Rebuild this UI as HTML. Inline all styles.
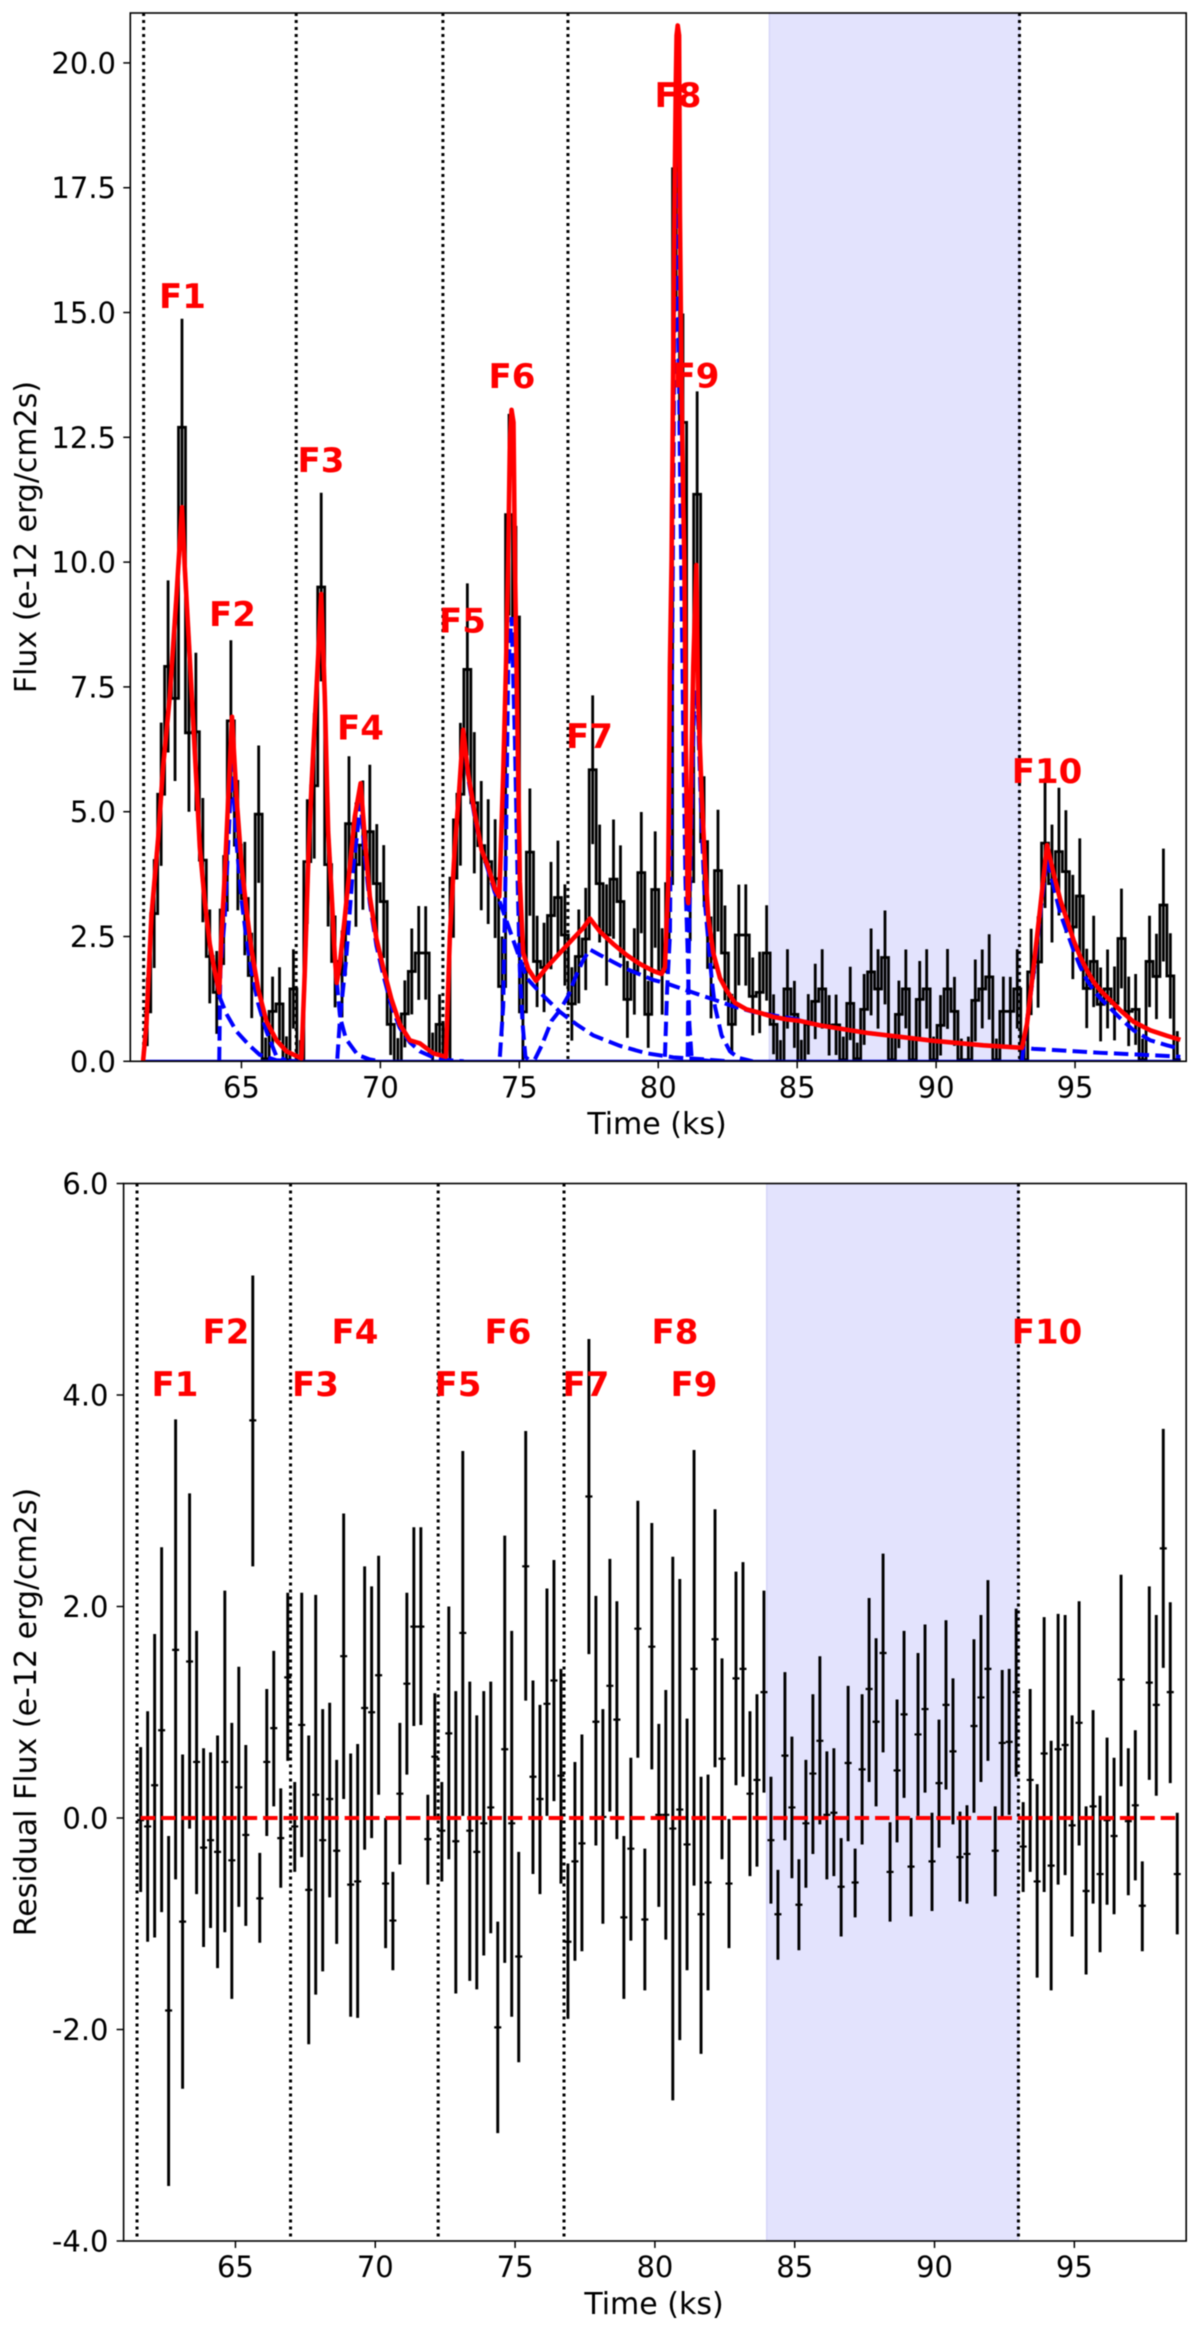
<!DOCTYPE html>
<html lang="en">
<head>
<meta charset="utf-8">
<title>Flare light curve and residuals</title>
<style>
html,body{margin:0;padding:0;background:#fff;}
svg{display:block;filter:blur(0.4px);}
text{font-family:"DejaVu Sans","Liberation Sans",sans-serif;fill:#000;}
.tick{font-size:29px;}
.title{font-size:30px;}
.flare{font-size:34px;font-weight:bold;fill:#ff0000;text-anchor:middle;}
</style>
</head>
<body>
<svg id="figure" xmlns="http://www.w3.org/2000/svg" width="1200" height="2334" viewBox="0 0 1200 2334">
  <defs>
    <clipPath id="clip-top"><rect x="130.3" y="13" width="1055.9" height="1048.3"/></clipPath>
    <clipPath id="clip-bottom"><rect x="123.6" y="1183.5" width="1062.6" height="1057.5"/></clipPath>
  </defs>
  <rect width="1200" height="2334" fill="#ffffff"/>
  <g id="top-data" clip-path="url(#clip-top)"></g>
  <g id="bottom-data" clip-path="url(#clip-bottom)"></g>
  <g id="axes-layer"></g>

  <text class="title" x="657" y="1134" text-anchor="middle">Time (ks)</text>
  <text class="title" transform="translate(36,537) rotate(-90)" text-anchor="middle">Flux (e-12 erg/cm2s)</text>
  <text class="title" x="654" y="2314" text-anchor="middle">Time (ks)</text>
  <text class="title" transform="translate(36,1712) rotate(-90)" text-anchor="middle">Residual Flux (e-12 erg/cm2s)</text>

  <g>
    <text class="flare" x="182.5" y="308">F1</text>
    <text class="flare" x="232.5" y="626">F2</text>
    <text class="flare" x="321" y="472">F3</text>
    <text class="flare" x="360.5" y="739.5">F4</text>
    <text class="flare" x="462.5" y="632.5">F5</text>
    <text class="flare" x="512" y="388">F6</text>
    <text class="flare" x="589.5" y="748">F7</text>
    <text class="flare" x="678" y="107">F8</text>
    <text class="flare" x="696" y="387.5">F9</text>
    <text class="flare" x="1047" y="783">F10</text>
  </g>
  <g>
    <text class="flare" x="175" y="1396">F1</text>
    <text class="flare" x="226" y="1343.5">F2</text>
    <text class="flare" x="315.5" y="1396">F3</text>
    <text class="flare" x="355" y="1343.5">F4</text>
    <text class="flare" x="458" y="1396">F5</text>
    <text class="flare" x="508" y="1343.5">F6</text>
    <text class="flare" x="586" y="1396">F7</text>
    <text class="flare" x="675" y="1343.5">F8</text>
    <text class="flare" x="694" y="1396">F9</text>
    <text class="flare" x="1047" y="1343.5">F10</text>
  </g>
</svg>
<script>
// ---- categories / tick labels ----
const xTickValues = [65,70,75,80,85,90,95];
const xTickLabels = ["65","70","75","80","85","90","95"];
const fluxTickValues = [0,2.5,5,7.5,10,12.5,15,17.5,20];
const fluxTickLabels = ["0.0","2.5","5.0","7.5","10.0","12.5","15.0","17.5","20.0"];
const residTickValues = [-4,-2,0,2,4,6];
const residTickLabels = ["-4.0","-2.0","0.0","2.0","4.0","6.0"];
const flareBoundaries = [61.48,66.97,72.25,76.75,93.0];
const quiescentBand = [84.0,93.0];

// ---- binned light curve ----
const binTimes = [
61.61,61.86,62.11,62.36,62.61,62.86,63.11,63.36,63.61,63.86,
64.11,64.36,64.62,64.87,65.12,65.37,65.62,65.87,66.12,66.37,
66.62,66.87,67.12,67.37,67.62,67.87,68.12,68.37,68.62,68.87,
69.12,69.37,69.62,69.87,70.12,70.37,70.63,70.88,71.13,71.38,
71.63,71.88,72.13,72.38,72.63,72.88,73.13,73.38,73.63,73.88,
74.13,74.38,74.63,74.88,75.13,75.38,75.64,75.89,76.14,76.39,
76.64,76.89,77.14,77.39,77.64,77.89,78.14,78.39,78.64,78.89,
79.14,79.39,79.64,79.89,80.14,80.39,80.64,80.89,81.15,81.40,
81.65,81.90,82.15,82.40,82.65,82.90,83.15,83.40,83.65,83.90,
84.15,84.40,84.65,84.90,85.15,85.40,85.65,85.90,86.15,86.40,
86.66,86.91,87.16,87.41,87.66,87.91,88.16,88.41,88.66,88.91,
89.16,89.41,89.66,89.91,90.16,90.41,90.66,90.91,91.16,91.41,
91.66,91.91,92.17,92.42,92.67,92.92,93.17,93.42,93.67,93.92,
94.17,94.42,94.67,94.92,95.17,95.42,95.67,95.92,96.17,96.42,
96.67,96.93,97.18,97.43,97.68,97.93,98.18,98.43,98.68];
const fluxValues = [
.99,2.96,5.35,7.91,7.27,12.7,6.58,6.6,4.03,2.1,
1.38,3.03,6.82,4.33,3.26,1.72,4.95,.05,1.0,1.15,
.03,1.45,0,4.0,5.52,9.5,3.94,2.0,1.75,4.76,
3.94,4.33,4.6,3.56,3.2,.74,0,.95,1.8,2.17,
2.17,.15,.74,0,3.67,5.35,7.85,5.18,4.32,4.0,
3.66,1.5,10.95,8.9,.99,4.19,2.0,1.88,2.92,3.28,
2.53,1.15,2.1,2.45,5.84,3.56,2.53,3.65,3.2,1.24,
1.8,3.78,.94,3.44,1.8,3.56,17.88,12.8,3.6,11.36,
4.4,1.88,3.82,2.17,.74,2.53,2.53,1.3,1.38,2.17,
.74,0,1.45,.94,0,.74,1.2,1.45,.72,.73,
.03,1.16,.05,1.04,1.79,1.45,2.08,.03,.94,1.45,
.03,1.24,1.45,.03,.72,1.45,1.0,.03,.03,1.22,
1.45,1.69,.03,1.0,1.0,1.45,.03,1.79,1.99,4.37,
3.56,4.2,3.8,2.69,3.31,1.46,2.0,1.14,1.45,1.16,
2.46,1.0,1.04,.03,2.0,1.7,3.13,1.71,.03];
const residValues = [
-.02,-.08,.31,.83,-1.82,1.59,-.98,1.48,.53,-.28,
-.21,-.32,.53,-.40,.29,-.16,3.76,-.76,.53,.85,
-.19,1.33,-.08,.88,-.68,.22,-.21,.18,-.31,1.53,
-.63,-.60,1.04,1.00,1.35,-.62,-.97,.23,1.27,1.81,
1.81,-.20,.58,-.12,.80,-.22,1.75,-.12,-.32,-.05,
.10,-1.98,.65,-.05,-1.31,2.38,.39,.18,1.08,1.30,
.40,-1.17,-.41,-.24,3.04,.91,.01,1.25,.93,-.94,
-.29,1.79,-.96,1.62,.03,.03,-.10,.08,-.25,1.41,
-.91,-.61,1.69,.56,-.62,1.32,1.41,.23,.36,1.19,
-.21,-.91,.59,.10,-.82,-.05,.42,.73,.03,.05,
-.65,.52,-.61,.46,1.22,.91,1.56,-.51,.45,.98,
-.46,.79,1.03,-.41,.33,1.07,.63,-.37,-.34,.87,
1.14,1.41,-.31,.71,.72,1.19,-.27,.36,-.60,.61,
-.45,.65,.69,-.07,.90,-.69,.11,-.53,-.02,-.17,
1.31,-.03,.12,-.83,1.28,1.07,2.55,1.19,-.53];
const residHigh = [
.67,1.01,1.74,2.56,-.17,3.77,.60,3.07,1.77,.66,
.62,.78,2.15,.90,1.43,.69,5.13,-.33,1.22,1.58,
.28,2.13,.34,2.13,.78,2.11,1.03,1.09,.55,2.88,
.61,.70,2.38,2.19,2.48,0,-.51,.90,2.13,2.75,
2.75,.22,1.18,.34,2.00,1.20,3.47,1.29,.97,1.20,
1.29,-.98,2.67,1.77,-.32,3.66,1.30,1.07,2.17,2.44,
1.41,-.43,.53,.79,4.53,2.10,1.03,2.45,2.05,-.17,
.57,3.00,-.29,2.79,.89,1.21,2.47,2.26,.94,3.48,
.39,.41,2.92,1.51,-.01,2.33,2.42,1.01,1.17,2.15,
.39,-.49,1.38,.77,-.39,.55,1.17,1.53,.63,.66,
-.19,1.25,-.29,1.17,2.08,1.70,2.50,-.04,1.12,1.77,
0,1.56,1.83,.05,.93,1.87,1.32,.06,.12,1.69,
1.92,2.25,.11,1.40,1.41,1.98,.15,1.22,.32,1.90,
.73,1.93,1.92,.97,2.05,.11,1.02,.21,.76,.57,
2.30,.66,.83,-.41,2.19,1.92,3.68,2.04,.05];
const residLow = [
-.70,-1.17,-1.13,-.89,-3.48,-.58,-2.56,-.10,-.72,-1.22,
-1.04,-1.42,-1.08,-1.71,-.84,-1.02,2.38,-1.18,-.17,.11,
-.66,.54,-.51,-.37,-2.14,-1.67,-1.45,-.75,-1.19,.18,
-1.88,-1.89,-.30,-.19,.22,-1.23,-1.44,-.44,.41,.87,
.88,-.63,-.02,-.60,-.39,-1.66,.02,-1.54,-1.62,-1.30,
-1.09,-2.98,-1.37,-1.88,-2.31,1.11,-.53,-.72,.02,.16,
-.62,-1.90,-1.35,-1.26,1.55,-.26,-1.00,.06,-.20,-1.71,
-1.16,.57,-1.63,.46,-.84,-1.15,-2.67,-2.10,-1.44,-.64,
-2.23,-1.63,.48,-.39,-1.23,.31,.39,-.55,-.46,.24,
-.81,-1.34,-.21,-.57,-1.25,-.66,-.34,-.06,-.58,-.55,
-1.12,-.22,-.94,-.25,.34,.11,.62,-.98,-.23,.19,
-.93,.02,.24,-.88,-.28,.27,-.06,-.79,-.81,.05,
.34,.54,-.74,.01,.03,.39,-.70,-.51,-1.51,-.70,
-1.63,-.63,-.54,-1.12,-.26,-1.48,-.81,-1.27,-.82,-.91,
.30,-.73,-.59,-1.26,.36,.21,1.42,.33,-1.10];

// ---- total model (red) ----
const modelTimes = [61.46,61.58,61.76,62.0,62.18,62.42,62.66,62.86,62.96,63.2,63.38,63.5,63.68,63.86,64.04,64.2,64.28,64.4,64.52,64.66,64.82,65.0,65.18,65.36,65.6,65.9,66.26,66.62,67.16,67.28,67.4,67.52,67.64,67.76,67.87,68.0,68.12,68.24,68.36,68.43,68.54,68.72,68.9,69.08,69.29,69.44,69.62,69.86,70.1,70.4,70.7,71.06,71.42,71.9,72.36,72.5,72.68,72.84,72.98,73.16,73.4,73.64,73.88,74.12,74.28,74.42,74.52,74.6,74.66,74.72,74.79,74.84,74.94,75.02,75.14,75.32,75.6,75.98,76.46,76.94,77.3,77.54,77.9,78.38,78.86,79.34,79.82,80.12,80.24,80.36,80.42,80.48,80.51,80.57,80.63,80.66,80.70,80.75,80.78,80.84,80.9,80.94,80.99,81.06,81.08,81.14,81.26,81.37,81.44,81.56,81.68,81.8,81.98,82.22,82.46,82.76,83.18,83.66,84.14,84.62,85.1,85.82,87.5,89.9,91.7,93.09,93.27,93.51,93.75,93.99,94.23,94.47,94.71,94.95,95.19,95.43,95.67,95.91,96.27,96.63,97.11,97.71,98.31,98.79];
const modelFlux = [0,.75,2.9,4.45,5.9,7.3,9.3,11.1,9.9,7.46,5.6,4.3,3.2,2.35,1.8,1.38,2.5,3.74,5.2,6.9,5.3,3.96,3.03,2.24,1.45,.8,.42,.2,.06,1.8,3.96,5.5,6.8,8.1,9.36,7.3,4.6,3.4,2.1,1.57,1.95,2.88,3.9,4.9,5.57,4.46,3.3,2.45,1.88,1.24,.74,.42,.36,.16,.09,2.5,4.3,5.46,6.64,5.75,4.96,4.24,3.89,3.46,3.3,5.75,7.9,10.04,12.4,13.05,12.8,10.04,6.46,3.6,2.17,1.85,1.61,1.88,2.17,2.46,2.67,2.86,2.6,2.35,2.13,1.95,1.81,1.75,1.88,3.6,7.9,10.04,11.96,16.25,19.5,20.55,20.75,20.55,16.97,13.4,11.2,10.04,6.46,3.24,3.17,4.3,7.9,9.94,7.18,5.39,3.96,2.88,2.17,1.67,1.42,1.17,1.04,.97,.89,.84,.81,.72,.57,.41,.32,.27,.75,1.89,3.09,4.33,3.76,3.23,2.83,2.42,2.09,1.82,1.59,1.42,1.22,1.02,.79,.62,.51,.43];

// ---- flare components (blue) ----
const baseTimes = [61.46,98.79];
const baseFlux = [0,0];
const f1Times = [61.46,61.58,61.76,62.0,62.18,62.42,62.66,62.86,62.96,63.2,63.38,63.5,63.68,63.86,64.04,64.2,64.46,64.82,65.3,65.66,66.26,67];
const f1Flux = [0,.75,2.9,4.45,5.9,7.3,9.3,11.0,9.9,7.46,5.6,4.3,3.2,2.35,1.8,1.31,.95,.6,.31,.13,.02,0];
const f2Times = [64.2,64.24,64.4,64.52,64.66,64.82,65.0,65.18,65.36,65.6,65.9,66.26,66.6];
const f2Flux = [0,1.8,2.88,4.3,5.96,4.39,3.24,2.46,1.8,1.16,.6,.1,.02];
const f3Times = [67.16,67.28,67.4,67.52,67.64,67.76,67.87,68.0,68.12,68.24,68.36,68.43,68.55,68.76,69.18,69.6,70];
const f3Flux = [0,1.8,3.96,5.5,6.8,8.1,9.3,7.3,4.6,3.4,2.1,1.6,.88,.45,.13,.04,0];
const f4Times = [68.45,68.55,68.76,69.0,69.29,69.44,69.62,69.86,70.1,70.4,70.7,71.06,71.42,71.9,72.5,73];
const f4Flux = [.05,.88,2.0,3.74,5.18,4.1,3.17,2.31,1.74,1.1,.67,.38,.2,.08,.02,0];
const f5Times = [72.36,72.5,72.68,72.84,72.98,73.16,73.4,73.64,73.88,74.12,74.28,74.54,74.9,75.26,75.74,76.46,77.06,77.66,78.62,79.58,80.54,81.62,82.5];
const f5Flux = [.05,2.5,4.3,5.46,6.55,5.67,4.87,4.24,3.82,3.38,3.22,2.81,2.24,1.67,1.38,.99,.74,.52,.31,.16,.08,.04,0];
const f6Times = [74.3,74.42,74.52,74.6,74.72,74.84,74.94,75.02,75.12,75.22,75.4];
const f6Flux = [.09,1.1,4.32,7.9,8.9,6.46,3.6,1.81,.74,.09,0];
const f7Times = [75.56,75.8,76.16,76.46,76.76,77.06,77.3,77.54,77.9,78.38,78.86,79.34,79.82,80.3,81.02,81.98,82.7,83.42,84.14,85.0,85.82,87.5,89.9,91.7,93.09,93.51,94.71,95.91,97.11,98.55,98.79];
const f7Flux = [.04,.31,.81,1.02,1.31,1.74,2.03,2.24,2.13,1.99,1.85,1.74,1.63,1.56,1.42,1.24,1.1,.99,.92,.84,.72,.57,.41,.32,.27,.25,.21,.17,.14,.1,.09];
const f8Times = [80.24,80.32,80.42,80.47,80.5,80.55,80.6,80.68,80.72,80.78,80.87,80.92,80.98,81.06,81.12,81.2,81.4,82];
const f8Flux = [.09,1.45,2.53,6,8,12,16,18.9,15,12,8,5.75,3.6,2.17,.74,.09,.03,0];
const f9Times = [81.06,81.08,81.12,81.2,81.28,81.37,81.44,81.56,81.68,81.92,82.04,82.28,82.58,82.88,83.4];
const f9Flux = [.09,1.45,2.88,5.0,6.96,7.45,6.75,4.75,3.17,1.67,1.1,.52,.2,.07,0];
const f10Times = [93.09,93.12,93.27,93.51,93.75,93.99,94.23,94.47,94.71,94.95,95.19,95.43,95.67,95.91,96.27,96.63,97.11,97.71,98.31,98.79];
const f10Flux = [0,.15,.82,1.76,2.96,4.09,3.49,2.96,2.59,2.22,1.89,1.62,1.42,1.26,1.06,.86,.62,.42,.32,.25];

const NS = 'http://www.w3.org/2000/svg';
const TOP = {left:130.3,right:1186.2,top:13,bottom:1061.3,xMin:61,xMax:99,yMin:0,yMax:21};
const BOT = {left:123.6,right:1186.2,top:1183.5,bottom:2241,xMin:61,xMax:99,yMin:-4,yMax:6};
function xScale(ax,t){return ax.left+(t-ax.xMin)/(ax.xMax-ax.xMin)*(ax.right-ax.left);}
function yScale(ax,v){return ax.bottom-(v-ax.yMin)/(ax.yMax-ax.yMin)*(ax.bottom-ax.top);}
function make(parent,tag,props){
  const el=document.createElementNS(NS,tag);
  for(const k in props){el.setAttribute(k,props[k]);}
  parent.appendChild(el);
  return el;
}
function pathFrom(ax,ts,vs){
  let d='';
  for(let i=0;i<ts.length;i++){
    d+=(i?'L':'M')+xScale(ax,ts[i]).toFixed(2)+' '+yScale(ax,vs[i]).toFixed(2);
  }
  return d;
}
function stepPath(ax,ts,vs){
  let d='M'+xScale(ax,ts[0]-(ts[1]-ts[0])/2).toFixed(2)+' '+yScale(ax,vs[0]).toFixed(2);
  for(let i=0;i<ts.length;i++){
    const next=i<ts.length-1?(ts[i]+ts[i+1])/2:ts[i]+(ts[i]-ts[i-1])/2;
    d+='L'+xScale(ax,next).toFixed(2)+' '+yScale(ax,vs[i]).toFixed(2);
    if(i<ts.length-1){d+='L'+xScale(ax,next).toFixed(2)+' '+yScale(ax,vs[i+1]).toFixed(2);}
  }
  return d;
}
function drawBackdrop(layer,ax){
  const band=make(layer,'rect',{x:xScale(ax,quiescentBand[0]),y:ax.top,width:xScale(ax,quiescentBand[1])-xScale(ax,quiescentBand[0]),height:ax.bottom-ax.top,fill:'#e3e3fd',stroke:'#d6d6f9','stroke-width':1.5});
  
  
  flareBoundaries.forEach(function(t){
    const line=make(layer,'line',{x1:xScale(ax,t),x2:xScale(ax,t),y1:ax.top,y2:ax.bottom,stroke:'#000','stroke-width':3,'stroke-dasharray':'3 4'});
    
    
  });
}
function drawAxes(layer,ax,yVals,yLabs,yTextX,xBase,prefix){
  const frame=make(layer,'rect',{x:ax.left,y:ax.top,width:ax.right-ax.left,height:ax.bottom-ax.top,fill:'none',stroke:'#000','stroke-width':1.6});
  
  
  xTickValues.forEach(function(t,i){
    const x=xScale(ax,t);
    const mark=make(layer,'line',{x1:x,x2:x,y1:ax.bottom,y2:ax.bottom+7,stroke:'#000','stroke-width':1.5});
    
    
    const lab=make(layer,'text',{x:x,y:xBase,'text-anchor':'middle',class:'tick'});
    lab.textContent=xTickLabels[i];
    
    
  });
  yVals.forEach(function(v,i){
    const y=yScale(ax,v);
    const mark=make(layer,'line',{x1:ax.left-7,x2:ax.left,y1:y,y2:y,stroke:'#000','stroke-width':1.5});
    
    
    const lab=make(layer,'text',{x:yTextX,y:y+10.5,'text-anchor':'end',class:'tick'});
    lab.textContent=yLabs[i];
    
    
  });
}

const topLayer=document.getElementById('top-data');
const botLayer=document.getElementById('bottom-data');
const axesLayer=document.getElementById('axes-layer');

// ---- top panel ----
drawBackdrop(topLayer,TOP);
binTimes.forEach(function(t,i){
  const err=(residHigh[i]-residLow[i])/2;
  const bar=make(topLayer,'line',{x1:xScale(TOP,t),x2:xScale(TOP,t),y1:yScale(TOP,fluxValues[i]+err),y2:yScale(TOP,fluxValues[i]-err),stroke:'#000','stroke-width':2.8});
  
  
});
const fluxStep=make(topLayer,'path',{d:stepPath(TOP,binTimes,fluxValues),fill:'none',stroke:'#000','stroke-width':2.8,'stroke-linejoin':'miter'});


const baseLine=make(topLayer,'path',{d:pathFrom(TOP,baseTimes,baseFlux),fill:'none',stroke:'#0000dd','stroke-width':3.2});


[[f1Times,f1Flux],[f2Times,f2Flux],[f3Times,f3Flux],[f4Times,f4Flux],[f5Times,f5Flux],[f6Times,f6Flux],[f7Times,f7Flux],[f8Times,f8Flux],[f9Times,f9Flux],[f10Times,f10Flux]].forEach(function(c,i){
  const comp=make(topLayer,'path',{d:pathFrom(TOP,c[0],c[1]),fill:'none',stroke:'#0000ff','stroke-width':4,'stroke-dasharray':'14.5 6.2'});
  
  
});
const modelLine=make(topLayer,'path',{d:pathFrom(TOP,modelTimes,modelFlux),fill:'none',stroke:'#ff0000','stroke-width':4.6,'stroke-linejoin':'round'});



// ---- bottom panel ----
drawBackdrop(botLayer,BOT);
binTimes.forEach(function(t,i){
  const x=xScale(BOT,t);
  const bar=make(botLayer,'line',{x1:x,x2:x,y1:yScale(BOT,residHigh[i]),y2:yScale(BOT,residLow[i]),stroke:'#000','stroke-width':2.9});
  
  
  const cap=make(botLayer,'line',{x1:x-3.5,x2:x+3.5,y1:yScale(BOT,residValues[i]),y2:yScale(BOT,residValues[i]),stroke:'#000','stroke-width':2.2});
  
  
});
const zeroLine=make(botLayer,'line',{x1:xScale(BOT,binTimes[0]),x2:xScale(BOT,binTimes[binTimes.length-1]),y1:yScale(BOT,0),y2:yScale(BOT,0),stroke:'#ff0000','stroke-width':4,'stroke-dasharray':'14.5 5.9'});



// ---- axes ----
drawAxes(axesLayer,TOP,fluxTickValues,fluxTickLabels,116,1097.5,'flux');
drawAxes(axesLayer,BOT,residTickValues,residTickLabels,108.5,2277,'residual');
</script>
</body>
</html>
